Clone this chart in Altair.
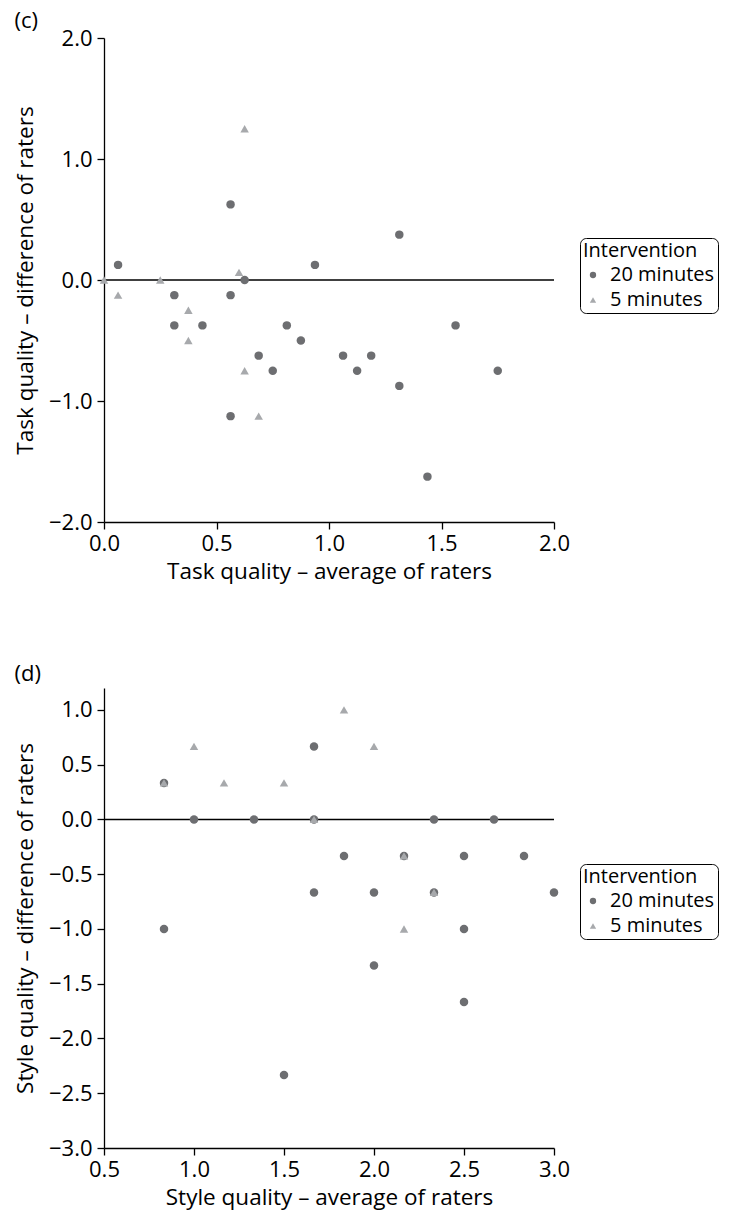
import altair as alt
import pandas as pd

groups = ["20 minutes", "5 minutes"]

# Panel (c): task quality
c_20_x = [0.0625, 0.5625, 0.3125, 0.5625, 0.625, 0.3125, 0.4375, 0.5625, 0.6875, 0.75,
          0.8125, 0.875, 0.9375, 1.0625, 1.125, 1.1875, 1.3125, 1.3125, 1.4375, 1.5625, 1.75]
c_20_y = [0.125, 0.625, -0.125, -0.125, 0.0, -0.375, -0.375, -1.125, -0.625, -0.75,
          -0.375, -0.5, 0.125, -0.625, -0.75, -0.625, 0.375, -0.875, -1.625, -0.375, -0.75]
c_5_x = [0.0, 0.0625, 0.25, 0.375, 0.375, 0.625, 0.6, 0.625, 0.6875]
c_5_y = [0.0, -0.125, 0.0, -0.25, -0.5, 1.25, 0.0625, -0.75, -1.125]

# Panel (d): style quality
d_20_x = [0.8333, 0.8333, 1.0, 1.3333, 1.5, 1.6667, 1.6667, 1.6667, 1.8333, 2.0,
          2.0, 2.1667, 2.3333, 2.3333, 2.5, 2.5, 2.5, 2.6667, 2.8333, 3.0]
d_20_y = [0.3333, -1.0, 0.0, 0.0, -2.3333, 0.6667, 0.0, -0.6667, -0.3333, -0.6667,
          -1.3333, -0.3333, 0.0, -0.6667, -0.3333, -1.0, -1.6667, 0.0, -0.3333, -0.6667]
d_5_x = [0.8333, 1.0, 1.1667, 1.5, 1.6667, 1.8333, 2.0, 2.1667, 2.1667, 2.3333]
d_5_y = [0.3333, 0.6667, 0.3333, 0.3333, 0.0, 1.0, 0.6667, -0.3333, -1.0, -0.6667]

c_xticks = [0.0, 0.5, 1.0, 1.5, 2.0]
c_yticks = [-2.0, -1.0, 0.0, 1.0, 2.0]
d_xticks = [0.5, 1.0, 1.5, 2.0, 2.5, 3.0]
d_yticks = [-3.0, -2.5, -2.0, -1.5, -1.0, -0.5, 0.0, 0.5, 1.0]

colors = ["#6d6e71", "#a7a9ac"]
shapes = ["circle", "triangle-up"]
FONT = "Open Sans"


def make_df(x20, y20, x5, y5):
    rows = [{"x": a, "y": b, "g": groups[0]} for a, b in zip(x20, y20)]
    rows += [{"x": a, "y": b, "g": groups[1]} for a, b in zip(x5, y5)]
    return pd.DataFrame(rows)


def panel(df, label, xdom, ydom, xt, yt, xtitle, ytitle, w, h, lx, ly, toff):
    legend = alt.Legend(title="Intervention", orient="none", legendX=lx, legendY=ly)
    pts = alt.Chart(df).mark_point(filled=True, opacity=1, size=72).encode(
        x=alt.X("x:Q", scale=alt.Scale(domain=xdom, nice=False, zero=False),
                axis=alt.Axis(values=xt, format=".1f", title=xtitle)),
        y=alt.Y("y:Q", scale=alt.Scale(domain=ydom, nice=False, zero=False),
                axis=alt.Axis(values=yt, format=".1f", title=ytitle)),
        color=alt.Color("g:N", scale=alt.Scale(domain=groups, range=colors), legend=legend),
        shape=alt.Shape("g:N", scale=alt.Scale(domain=groups, range=shapes), legend=legend),
    )
    zero = alt.Chart(pd.DataFrame({"y": [0.0]})).mark_rule(color="black", strokeWidth=1.5).encode(
        y="y:Q"
    )
    return alt.layer(zero, pts).properties(
        width=w, height=h,
        title=alt.Title(label, anchor="start", frame="bounds", fontSize=22,
                        fontWeight="normal", font=FONT, offset=toff, color="black"),
    )


top = panel(make_df(c_20_x, c_20_y, c_5_x, c_5_y), "(c)", [0, 2], [-2, 2], c_xticks, c_yticks,
            "Task quality – average of raters", "Task quality – difference of raters",
            450, 484, 476, 200, -6)
bottom = panel(make_df(d_20_x, d_20_y, d_5_x, d_5_y), "(d)", [0.5, 3], [-3, 1.2], d_xticks, d_yticks,
               "Style quality – average of raters", "Style quality – difference of raters",
               450, 460, 476, 176, 2)

chart = alt.vconcat(top, bottom, spacing=80).resolve_scale(
    color="independent", shape="independent"
).resolve_legend(color="independent", shape="independent").properties(
    padding={"left": 14, "top": 10, "right": 0, "bottom": 2}
).configure_view(stroke=None).configure_axis(
    grid=False, domainColor="black", tickColor="black", labelColor="black", titleColor="black",
    labelFont=FONT, titleFont=FONT, labelFontSize=22, titleFontSize=22.5, titleFontWeight="normal",
    tickSize=7, domainWidth=1.3, tickWidth=1.3, labelFlush=False,
    labelOverlap=False,
).configure_axisY(labelPadding=5, titlePadding=11).configure_axisX(
    labelPadding=4, titlePadding=6
).configure_legend(
    strokeColor="black", cornerRadius=6, padding=3, titleFont=FONT, labelFont=FONT,
    titleFontSize=20, labelFontSize=20, titleFontWeight="normal", titleColor="black",
    labelColor="black", symbolSize=40, symbolStrokeWidth=0, titlePadding=4, rowPadding=5,
    labelOffset=7,
)

chart.save("out.html", embed_options={"renderer": "svg", "actions": False})
